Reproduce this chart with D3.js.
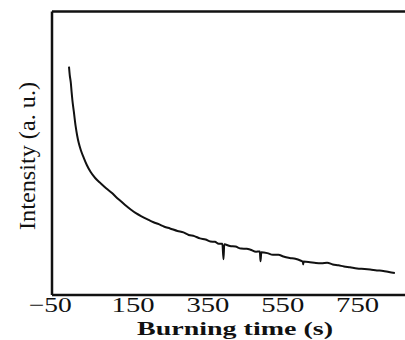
<!DOCTYPE html>
<html><head><meta charset="utf-8">
<script src="https://cdn.jsdelivr.net/npm/d3@7"></script>
<style>body{margin:0;background:#fff}svg{display:block}</style>
</head><body>
<svg id="c" width="405" height="340"></svg>
<script>
const xTicks = [-50, 150, 350, 550, 750];
const xTickLabels = ["\u221250", "150", "350", "550", "750"];
const time = [-20,-18,-15,-13,-11,-7,-2,2,6,12,19,28,38,50,65,80,95,105,115,130,145,160,175,190,206,220,235,250,270,286,300,315,330,345,358,370,380,390,393,395,410,425,440,455,465,480,490,492,494,510,525,540,553,570,585,600,605,606,607,620,640,655,670,685,700,715,731,750,770,785,803,820,835,851];
const intensity = [80.4,77.5,74.6,71.5,68.7,64.5,59.2,56.0,53.5,50.8,48.4,45.6,43.2,41.1,39.2,37.4,35.8,34.5,33.3,31.6,30.0,28.6,27.5,26.5,25.5,24.8,23.9,23.3,22.4,21.9,21.0,20.6,19.8,19.4,18.7,18.6,17.9,17.9,12.4,17.7,17.1,16.9,16.2,16.1,15.8,15.1,15.2,11.7,14.9,14.6,14.0,14.0,13.4,12.9,12.6,11.9,11.6,10.6,11.6,11.5,11.1,11.0,11.2,10.6,10.3,9.9,9.6,9.2,9.0,8.8,8.5,8.3,7.9,7.6];
const xTitle = "Burning time (s)";
const yTitle = "Intensity (a. u.)";

const svg = d3.select("#c");
const x = d3.scaleLinear().domain([-66.7, 900]).range([51.5, 413.2]);
const y = d3.scaleLinear().domain([0, 100]).range([294.5, 11]);

// frame
const frame = svg.append("g");
frame.append("g").attr("transform","translate(0,294.5)")
  .call(d3.axisBottom(x).tickValues(xTicks).tickSize(0).tickPadding(2.6)
    .tickFormat((d,i)=>xTickLabels[i]))
  .call(g=>{
    g.select(".domain").attr("stroke","#111").attr("stroke-width",2.5);
    g.selectAll("text").attr("font-family","'Liberation Serif',serif").attr("font-size",21)
      .attr("fill","#111").attr("textLength",43).attr("lengthAdjust","spacingAndGlyphs")
      .attr("dx",(d,i)=>i===0?-8:0);
  });
frame.append("g").attr("transform","translate(0,11)")
  .call(d3.axisTop(x).tickValues([]).tickSize(0))
  .call(g=>g.select(".domain").attr("stroke","#111").attr("stroke-width",2.5));
frame.append("g").attr("transform","translate(51.5,0)")
  .call(d3.axisLeft(y).tickValues([]).tickSize(0))
  .call(g=>g.select(".domain").attr("stroke","#111").attr("stroke-width",2.5));

// curve
const pts = time.map((t,i)=>[t,intensity[i]]);
svg.append("path").datum(pts)
  .attr("fill","none").attr("stroke","#111").attr("stroke-width",2)
  .attr("stroke-linejoin","round")
  .attr("d", d3.line().curve(d3.curveMonotoneX).x(d=>x(d[0])).y(d=>y(d[1])));

// titles
svg.append("text").attr("x",235).attr("y",335).attr("text-anchor","middle")
  .attr("font-family","'Liberation Serif',serif").attr("font-weight","bold").attr("font-size",19)
  .attr("fill","#111").attr("textLength",196).attr("lengthAdjust","spacingAndGlyphs").text(xTitle);
svg.append("text").attr("transform","translate(35,156) rotate(-90)").attr("text-anchor","middle")
  .attr("font-family","'Liberation Serif',serif").attr("font-size",23)
  .attr("fill","#111").attr("textLength",148).attr("lengthAdjust","spacingAndGlyphs").text(yTitle);
</script>
</body></html>
